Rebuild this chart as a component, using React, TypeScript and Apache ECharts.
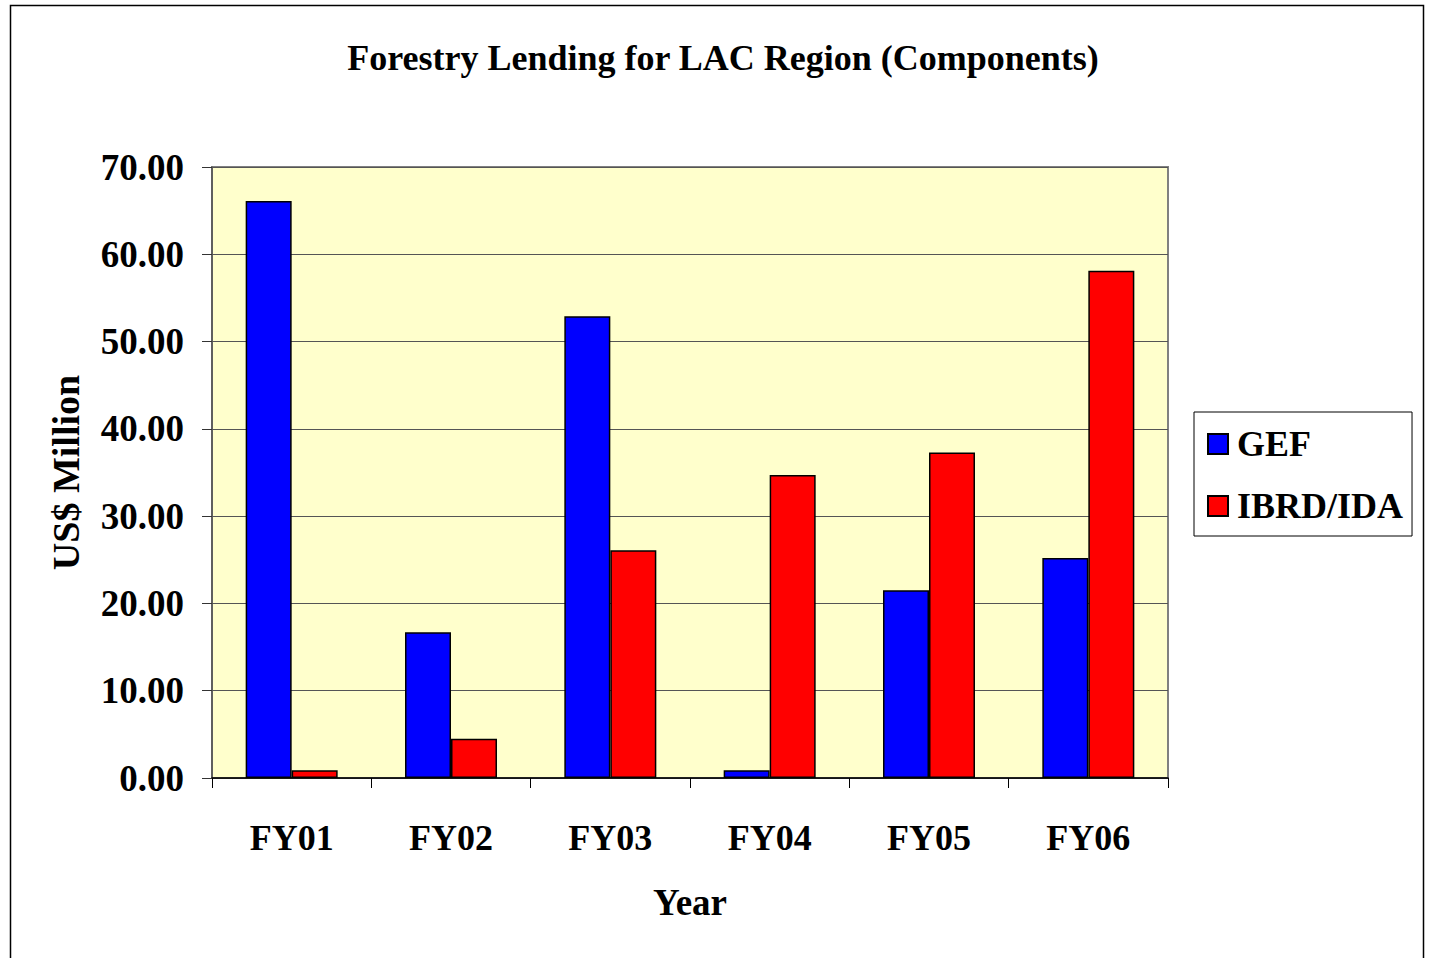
import React, { useEffect, useRef } from "react";
import * as echarts from "echarts";

const categories = ["FY01", "FY02", "FY03", "FY04", "FY05", "FY06"];
const gefValues = [66.1, 16.7, 52.9, 0.9, 21.5, 25.2];
const ibrdValues = [0.9, 4.5, 26.1, 34.7, 37.3, 58.1];
const seriesNames = ["GEF", "IBRD/IDA"];
const titleText = "Forestry Lending for LAC Region (Components)";

const FONT = "'Liberation Serif', 'Times New Roman', serif";

export default function App() {
  const ref = useRef<HTMLDivElement>(null);
  useEffect(() => {
    if (!ref.current) return;
    const chart = echarts.init(ref.current, null, { renderer: "svg" });
    chart.setOption({
      animation: false,
      backgroundColor: "#ffffff",
      textStyle: { fontFamily: FONT },
      title: {
        text: titleText,
        left: 718,
        top: 35,
        textAlign: "center",
        textStyle: { fontFamily: FONT, fontWeight: "bold", fontSize: 36, color: "#000" },
      },
      graphic: [
        {
          type: "rect",
          shape: { x: 10.5, y: 5.5, width: 1413, height: 960 },
          style: { fill: "none", stroke: "#000", lineWidth: 1.5 },
          z: 100,
        },
      ],
      legend: {
        orient: "vertical",
        left: 1194,
        top: 412,
        padding: [14, 9, 12, 13],
        itemGap: 26,
        itemWidth: 20,
        itemHeight: 20,
        icon: "rect",
        borderColor: "#000",
        borderWidth: 1,
        backgroundColor: "#fff",
        textStyle: { fontFamily: FONT, fontWeight: "bold", fontSize: 36, color: "#000", padding: [0, 0, 0, 4] },
        data: seriesNames,
      },
      grid: {
        left: 212,
        top: 167,
        width: 956,
        height: 611,
        show: true,
        backgroundColor: "#FFFFCC",
        borderColor: "#808080",
        borderWidth: 2,
        containLabel: false,
      },
      xAxis: {
        type: "category",
        data: categories,
        name: "Year",
        nameLocation: "middle",
        nameGap: 106,
        nameTextStyle: { fontFamily: FONT, fontWeight: "bold", fontSize: 37, color: "#000" },
        axisLine: { lineStyle: { color: "#000", width: 1.5 } },
        axisTick: { show: true, length: 10, lineStyle: { color: "#000" } },
        axisLabel: { fontFamily: FONT, fontWeight: "bold", fontSize: 36, color: "#000", margin: 42 },
      },
      yAxis: {
        type: "value",
        min: 0,
        max: 70,
        interval: 10,
        name: "US$ Million",
        nameLocation: "middle",
        nameGap: 127,
        nameRotate: 90,
        nameTextStyle: { fontFamily: FONT, fontWeight: "bold", fontSize: 38, color: "#000" },
        axisLine: { show: true, lineStyle: { color: "#555", width: 1.5 } },
        axisTick: { show: true, length: 10, inside: false, lineStyle: { color: "#333" } },
        axisLabel: {
          fontFamily: FONT,
          fontWeight: "bold",
          fontSize: 37,
          color: "#000",
          margin: 28,
          formatter: (v: number) => v.toFixed(2),
        },
        splitLine: { show: true, lineStyle: { color: "#555", width: 1 } },
      },
      series: [
        {
          name: seriesNames[0],
          type: "bar",
          data: gefValues,
          barWidth: 46,
          barGap: "0%",
          itemStyle: { color: "#0000FF", borderColor: "#000", borderWidth: 1.5 },
        },
        {
          name: seriesNames[1],
          type: "bar",
          data: ibrdValues,
          barWidth: 46,
          barGap: "0%",
          itemStyle: { color: "#FF0000", borderColor: "#000", borderWidth: 1.5 },
        },
      ],
    });
    return () => chart.dispose();
  }, []);
  return (
    <div
      ref={ref}
      style={{ position: "fixed", left: 0, top: 0, width: 1429, height: 958 }}
    />
  );
}
